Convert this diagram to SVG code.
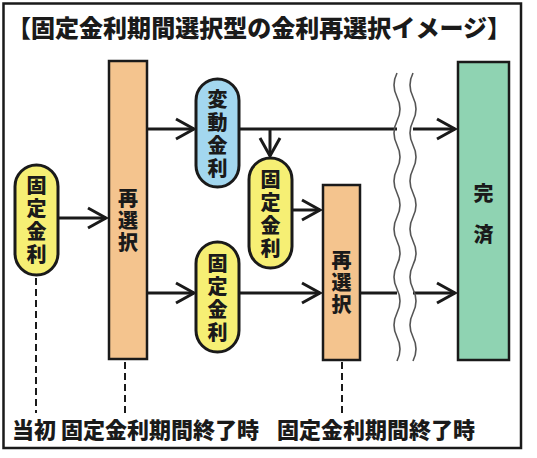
<svg xmlns="http://www.w3.org/2000/svg" width="537" height="458" viewBox="0 0 537 458">
<defs>
<style>
text{font-family:"Noto Sans CJK JP","Noto Sans CJK SC",sans-serif;font-weight:900;fill:#1a1a1a;}
.t{font-size:24px;}
.n{font-size:20px;text-anchor:middle;writing-mode:vertical-rl;}
.b{font-size:22px;}
.pill{stroke:#1a1a1a;stroke-width:3;}
.bar{stroke:#1a1a1a;stroke-width:2.5;}
.y{fill:#f6ef74;}
.bl{fill:#a3d7ef;}
.o{fill:#f4c48e;}
.g{fill:#8fd3b2;}
.c{stroke:#1a1a1a;stroke-width:3;fill:none;}
.d{stroke:#1a1a1a;stroke-width:2;stroke-dasharray:7 4;fill:none;}
.w{stroke:#555;stroke-width:1.6;fill:none;}
</style>
<marker id="ah" markerUnits="userSpaceOnUse" markerWidth="26" markerHeight="26" viewBox="0 0 26 26" refX="21" refY="13" orient="auto">
<path d="M3,3 L21,13 L3,23" fill="none" stroke="#1a1a1a" stroke-width="3" stroke-linejoin="miter"/>
</marker>
</defs>
<rect width="537" height="458" fill="#fff"/>
<rect x="3.5" y="3.5" width="517.5" height="444.5" fill="none" stroke="#1a1a1a" stroke-width="2.5"/>
<text class="t" x="7" y="36.5" textLength="504" lengthAdjust="spacingAndGlyphs">【固定金利期間選択型の金利再選択イメージ】</text>

<g id="connectors">
<line class="c" x1="58" y1="218" x2="106" y2="218" marker-end="url(#ah)"/>
<line class="c" x1="147" y1="129" x2="194" y2="129" marker-end="url(#ah)"/>
<line class="c" x1="239" y1="129" x2="397" y2="129"/>
<line class="c" x1="413" y1="129" x2="455" y2="129" marker-end="url(#ah)"/>
<line class="c" x1="270" y1="129" x2="270" y2="156" marker-end="url(#ah)"/>
<line class="c" x1="292" y1="210" x2="320" y2="210" marker-end="url(#ah)"/>
<line class="c" x1="147" y1="293" x2="194" y2="293" marker-end="url(#ah)"/>
<line class="c" x1="239" y1="293" x2="320" y2="293" marker-end="url(#ah)"/>
<line class="c" x1="360" y1="293" x2="397" y2="293"/>
<line class="c" x1="413" y1="293" x2="455" y2="293" marker-end="url(#ah)"/>
<line class="d" x1="36" y1="278" x2="36" y2="413"/>
<line class="d" x1="125" y1="362" x2="125" y2="413"/>
<line class="d" x1="342" y1="362" x2="342" y2="413"/>
</g>

<g id="break">
<path class="w" d="M397,73 q-6,12 0,24 t0,24 t0,24 t0,24 t0,24 t0,24 t0,24 t0,24 t0,24 t0,24 t0,24 t0,24"/>
<path class="w" d="M413,73 q-6,12 0,24 t0,24 t0,24 t0,24 t0,24 t0,24 t0,24 t0,24 t0,24 t0,24 t0,24 t0,24"/>
</g>

<g id="fixed-initial">
<rect class="pill y" x="15" y="165" width="43" height="110" rx="21.5"/>
<text class="n" x="36.5" y="221" letter-spacing="3">固定金利</text>
</g>

<g id="reselect-1">
<rect class="bar o" x="109" y="61" width="38" height="298"/>
<text class="n" x="128" y="221" letter-spacing="2">再選択</text>
</g>

<g id="variable">
<rect class="pill bl" x="196" y="79" width="43" height="108" rx="21.5"/>
<text class="n" x="217.5" y="135.5" letter-spacing="3">変動金利</text>
</g>

<g id="fixed-2">
<rect class="pill y" x="249" y="158" width="43" height="110" rx="21.5"/>
<text class="n" x="270.5" y="215" letter-spacing="3">固定金利</text>
</g>

<g id="fixed-3">
<rect class="pill y" x="196" y="242" width="43" height="110" rx="21.5"/>
<text class="n" x="217.5" y="299" letter-spacing="3">固定金利</text>
</g>

<g id="reselect-2">
<rect class="bar o" x="323" y="185" width="37" height="175"/>
<text class="n" x="341.5" y="283.5" letter-spacing="2">再選択</text>
</g>

<g id="repaid">
<rect class="bar g" x="458" y="62" width="51" height="298"/>
<text class="n" x="483.5" y="224" letter-spacing="21">完済</text>
</g>

<g id="labels">
<text class="b" x="12" y="438.4">当初</text>
<text class="b" x="61" y="438.4">固定金利期間終了時</text>
<text class="b" x="277" y="438.4">固定金利期間終了時</text>
</g>
</svg>
